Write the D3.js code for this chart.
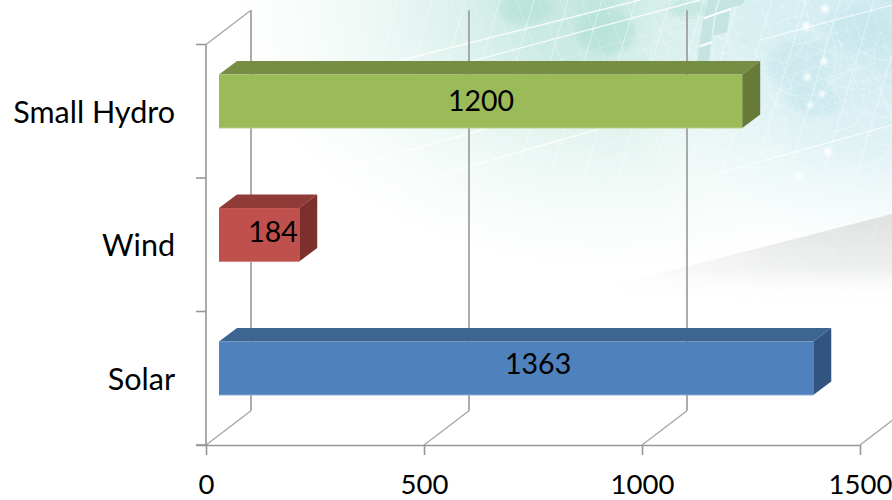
<!DOCTYPE html>
<html>
<head>
<meta charset="utf-8">
<script src="https://cdnjs.cloudflare.com/ajax/libs/d3/7.8.5/d3.min.js"></script>
<style>
  html, body { margin: 0; padding: 0; background: #fff; overflow: hidden; }
  svg { display: block; }
  text { font-family: Lato, "Open Sans", sans-serif; fill: #000; }
</style>
</head>
<body>
<svg id="chart" width="892" height="500"></svg>
<script>
// Installed capacity by source, bottom bar last.
const categories = ["Small Hydro", "Wind", "Solar"];
const capacities = [1200, 184, 1363];
const axisTicks = [0, 500, 1000, 1500];
const faceColours = ["#9BBB59", "#C0504D", "#4F81BD"];
const topColours = ["#788D44", "#903B38", "#3D6591"];
const sideColours = ["#677A38", "#7B302E", "#325480"];
const edgeColours = ["#B3CC7E", "#D4807E", "#7FA3D2"];

const svg = d3.select("#chart");
const defs = svg.append("defs");

// Plot geometry: the front floor edge, the wall depth and the bar depth.
const floorY = 445, wallTopY = 44.5;
const depthX = 45, depthY = 34.3;
const barOffsetX = 13, barOffsetY = 10, barDepthX = 18, barDepthY = 13.5;

const x = d3.scaleLinear().domain([0, 1500]).range([206, 860]);
const y = d3.scaleBand().domain(categories).range([wallTopY, floorY])
  .paddingInner(0.6).paddingOuter(0.3);
const rows = d3.scaleBand().domain(categories).range([wallTopY, floorY]);

/* ---------- slide backdrop ---------- */
function radial(id, cx, cy, r, stops, transform) {
  const g = defs.append("radialGradient").attr("id", id)
    .attr("gradientUnits", "userSpaceOnUse")
    .attr("cx", cx).attr("cy", cy).attr("r", r);
  if (transform) g.attr("gradientTransform", transform);
  stops.forEach(s => g.append("stop").attr("offset", s[0])
    .attr("stop-color", s[1]).attr("stop-opacity", s[2]));
}
function linear(id, x1, y1, x2, y2, stops) {
  const g = defs.append("linearGradient").attr("id", id)
    .attr("gradientUnits", "userSpaceOnUse")
    .attr("x1", x1).attr("y1", y1).attr("x2", x2).attr("y2", y2);
  stops.forEach(s => g.append("stop").attr("offset", s[0])
    .attr("stop-color", s[1]).attr("stop-opacity", s[2]));
}
radial("tealGlow", 610, 0, 400,
  [[0, "#c0e6de", 1], [0.25, "#c8e9e2", 0.9], [0.5, "#dbf1ec", 0.7], [0.75, "#ecf8f5", 0.45], [1, "#ffffff", 0]],
  "translate(610 0) scale(1 0.72) translate(-610 0)");
radial("blueGlow", 892, 30, 290,
  [[0, "#c9e8ee", 1], [0.5, "#d8eff3", 0.75], [0.8, "#eef8fa", 0.4], [1, "#ffffff", 0]],
  "translate(892 30) scale(1 0.85) translate(-892 -30)");

// The grey band fades downward and, through a mask, towards the left.
linear("greyFade", 0, 214, 0, 305, [[0, "#dfe1e1", 1], [0.6, "#eceeee", 0.9], [1, "#ffffff", 0]]);
linear("bandFade", 590, 0, 860, 0, [[0, "#000", 1], [0.3, "#666", 1], [0.7, "#ddd", 1], [1, "#fff", 1]]);
defs.append("mask").attr("id", "bandMask").attr("maskUnits", "userSpaceOnUse")
  .attr("x", 0).attr("y", 0).attr("width", 892).attr("height", 500)
  .append("rect").attr("width", 892).attr("height", 500).attr("fill", "url(#bandFade)");

defs.append("filter").attr("id", "soft").append("feGaussianBlur").attr("stdDeviation", 0.45);
defs.append("filter").attr("id", "softer").append("feGaussianBlur").attr("stdDeviation", 3);
defs.append("filter").attr("id", "dotBlur").append("feGaussianBlur").attr("stdDeviation", 1.6);

linear("fadeDown", 0, 0, 0, 290, [[0, "#fff", 1], [0.55, "#fff", 1], [1, "#000", 1]]);
defs.append("mask").attr("id", "meshMask").attr("maskUnits", "userSpaceOnUse")
  .attr("x", 0).attr("y", 0).attr("width", 892).attr("height", 500)
  .append("rect").attr("width", 892).attr("height", 500).attr("fill", "url(#fadeDown)");

const bg = svg.append("g").attr("class", "backdrop");
bg.append("rect").attr("width", 892).attr("height", 500).attr("fill", "#fff");
bg.append("rect").attr("width", 892).attr("height", 320).attr("fill", "url(#tealGlow)");
bg.append("rect").attr("x", 500).attr("width", 392).attr("height", 340).attr("fill", "url(#blueGlow)");

// Darker cloud patches behind the mesh.
const patches = bg.append("g").attr("filter", "url(#softer)").attr("fill", "#aedfd3").attr("opacity", 0.5);
[[525, 8, 28, 16], [606, 32, 30, 22], [688, 8, 20, 10]].forEach(p =>
  patches.append("ellipse").attr("cx", p[0]).attr("cy", p[1]).attr("rx", p[2]).attr("ry", p[3]));
const bluePatches = bg.append("g").attr("filter", "url(#softer)").attr("fill", "#c4e6ec").attr("opacity", 0.55);
[[800, 65, 32, 26], [860, 30, 36, 22], [815, 100, 28, 16]].forEach(p =>
  bluePatches.append("ellipse").attr("cx", p[0]).attr("cy", p[1]).attr("rx", p[2]).attr("ry", p[3]));

// Grey band sloping up towards the right edge.
bg.append("g").attr("mask", "url(#bandMask)")
  .append("path").attr("d", "M590,305 L590,291 L892,214 L892,305 Z").attr("fill", "url(#greyFade)");

// Fine white mesh.
const mesh = bg.append("g").attr("mask", "url(#meshMask)").attr("fill", "none").attr("stroke", "#fff");
const meshInner = mesh.append("g").attr("filter", "url(#soft)");
d3.range(0, 17).forEach(i => {
  const x0 = 310 + i * 34;
  meshInner.append("line").attr("x1", x0).attr("y1", 300).attr("x2", x0 + 88).attr("y2", 0)
    .attr("stroke-width", 0.9).attr("opacity", 0.5);
});
d3.range(0, 20).forEach(i => {
  const x0 = 500 + i * 22;
  meshInner.append("line").attr("x1", x0).attr("y1", 130).attr("x2", x0 - 50).attr("y2", 0)
    .attr("stroke-width", 0.7).attr("opacity", 0.35);
});
d3.range(0, 16).forEach(i => {
  const y0 = 20 + i * 14;
  meshInner.append("line").attr("x1", 560).attr("y1", y0 + 40).attr("x2", 892).attr("y2", y0 - 60)
    .attr("stroke-width", 0.6).attr("opacity", 0.35);
  meshInner.append("line").attr("x1", 640).attr("y1", y0 - 70).attr("x2", 892).attr("y2", y0 + 30)
    .attr("stroke-width", 0.6).attr("opacity", 0.3);
});
d3.range(0, 9).forEach(i => {
  const c = 690 + i * 28;
  [24, 40, 62].forEach((r, k) => meshInner.append("circle").attr("cx", c).attr("cy", 20 + ((i + k) % 4) * 36).attr("r", r)
    .attr("stroke-width", 0.7).attr("opacity", 0.35));
});
[[290, 88, 640, 0, 1.5], [300, 215, 700, 100, 1.5], [340, 170, 640, 85, 1.4], [446, 68, 700, 0, 1.3], [640, 195, 892, 125, 1.2], [760, 40, 892, 5, 1]]
  .forEach(l => meshInner.append("line").attr("x1", l[0]).attr("y1", l[1]).attr("x2", l[2]).attr("y2", l[3])
    .attr("stroke-width", l[4]).attr("opacity", 0.8));

// Glass panels near the top of the slide.
const panels = bg.append("g").attr("filter", "url(#soft)").attr("fill", "#c3e3e0").attr("opacity", 0.9);
["M708,0 L718,0 L714,14 L704,18 Z", "M720,0 L745,0 L742,5 L729,8 L716,13 Z",
 "M703,20 L714,16 L711,42 L699,46 Z", "M716,15 L730,11 L727,32 L713,36 Z",
 "M699,48 L711,44 L709,62 L697,62 Z"].forEach(d => panels.append("path").attr("d", d));
const glints = bg.append("g").attr("stroke", "#fff").attr("filter", "url(#soft)");
glints.append("line").attr("x1", 704).attr("y1", 18).attr("x2", 731).attr("y2", 9).attr("stroke-width", 1.8);
glints.append("line").attr("x1", 700).attr("y1", 46).attr("x2", 712).attr("y2", 42).attr("stroke-width", 1.8);

// Bright nodes on the mesh.
const nodes = bg.append("g").attr("fill", "#fff").attr("filter", "url(#dotBlur)").attr("opacity", 0.85);
[[825, 9, 4], [806, 26, 4], [824, 61, 3.5], [807, 77, 3.5], [822, 94, 3], [810, 105, 3], [828, 152, 4], [799, 176, 4]]
  .forEach(d => nodes.append("circle").attr("cx", d[0]).attr("cy", d[1]).attr("r", d[2]));

/* ---------- walls and grid ---------- */
const wallColour = "#969696";
const grid = svg.append("g").attr("fill", "none").attr("stroke", wallColour).attr("stroke-width", 1.6);
grid.selectAll(".upright").data(axisTicks.filter(t => t < 1500)).join("line")
  .attr("class", "upright")
  .attr("x1", d => x(d) + depthX).attr("x2", d => x(d) + depthX)
  .attr("y1", floorY - depthY).attr("y2", wallTopY - depthY);
grid.selectAll(".floorLine").data(axisTicks).join("line")
  .attr("class", "floorLine")
  .attr("x1", d => x(d)).attr("y1", floorY)
  .attr("x2", d => x(d) + depthX).attr("y2", floorY - depthY)
  .attr("stroke", "#a8a8a8").attr("stroke-width", 1.4);
grid.append("line").attr("x1", x(0)).attr("y1", wallTopY)
  .attr("x2", x(0) + depthX).attr("y2", wallTopY - depthY).attr("stroke", "#a8a8a8").attr("stroke-width", 1.4);
grid.append("line").attr("x1", x(0)).attr("y1", wallTopY).attr("x2", x(0)).attr("y2", floorY);

// Category separators on the side wall.
grid.selectAll(".catTick").data(d3.range(categories.length + 1)).join("line")
  .attr("class", "catTick")
  .attr("x1", x(0) - 10).attr("x2", x(0))
  .attr("y1", i => wallTopY + i * rows.step()).attr("y2", i => wallTopY + i * rows.step());

/* ---------- bars ---------- */
const bars = svg.append("g").selectAll("g").data(categories).join("g");
const bx0 = x(0) + barOffsetX;
const bw = i => x(capacities[i]) - x(0);
const by = c => y(c) - barOffsetY;
bars.append("path").attr("fill", (c, i) => topColours[i])
  .attr("d", (c, i) => {
    const t = by(c), r = bx0 + bw(i);
    return `M${bx0},${t} L${bx0 + barDepthX},${t - barDepthY} L${r + barDepthX},${t - barDepthY} L${r},${t} Z`;
  });
bars.append("path").attr("fill", (c, i) => sideColours[i])
  .attr("d", (c, i) => {
    const t = by(c), r = bx0 + bw(i), b = t + y.bandwidth();
    return `M${r},${t} L${r + barDepthX},${t - barDepthY} L${r + barDepthX},${b - barDepthY} L${r},${b} Z`;
  });
bars.append("rect").attr("fill", (c, i) => faceColours[i])
  .attr("x", bx0).attr("y", by)
  .attr("width", (c, i) => bw(i)).attr("height", y.bandwidth());
bars.append("line").attr("stroke", (c, i) => edgeColours[i]).attr("stroke-width", 1)
  .attr("x1", bx0).attr("x2", (c, i) => bx0 + bw(i))
  .attr("y1", c => by(c) + y.bandwidth()).attr("y2", c => by(c) + y.bandwidth());

// Value labels: two of them sit off the face centre.
const labelShiftX = { "Wind": 14, "Solar": 22, "Small Hydro": 0.5 };
const labelShiftY = { "Wind": -2, "Solar": -4, "Small Hydro": 0 };
bars.append("text")
  .attr("text-anchor", "middle").attr("font-size", 28.5)
  .attr("x", (c, i) => bx0 + bw(i) / 2 + labelShiftX[c])
  .attr("y", c => by(c) + y.bandwidth() / 2 + 9.5 + labelShiftY[c])
  .text((c, i) => capacities[i]);

/* ---------- axes ---------- */
const xAxis = svg.append("g").attr("transform", `translate(0,${floorY})`)
  .call(d3.axisBottom(x).tickValues(axisTicks).tickSize(10).tickPadding(30).tickFormat(d3.format("d")));
xAxis.select(".domain").attr("stroke", wallColour).attr("stroke-width", 1.6).attr("d", `M${x(0) - 10},0.5H${x(1500)}`);
xAxis.selectAll(".tick line").attr("stroke", wallColour).attr("stroke-width", 1.6);
xAxis.selectAll("text").attr("font-size", 27.5).attr("font-family", null)
  .attr("dy", 0).attr("y", 49);

const yAxis = svg.append("g").attr("transform", `translate(${x(0)},0)`)
  .call(d3.axisLeft(rows).tickSize(0).tickPadding(31));
yAxis.select(".domain").remove();
yAxis.selectAll("text").attr("font-size", 30.5).attr("font-family", null).attr("dy", "0.38em");
</script>
</body>
</html>
